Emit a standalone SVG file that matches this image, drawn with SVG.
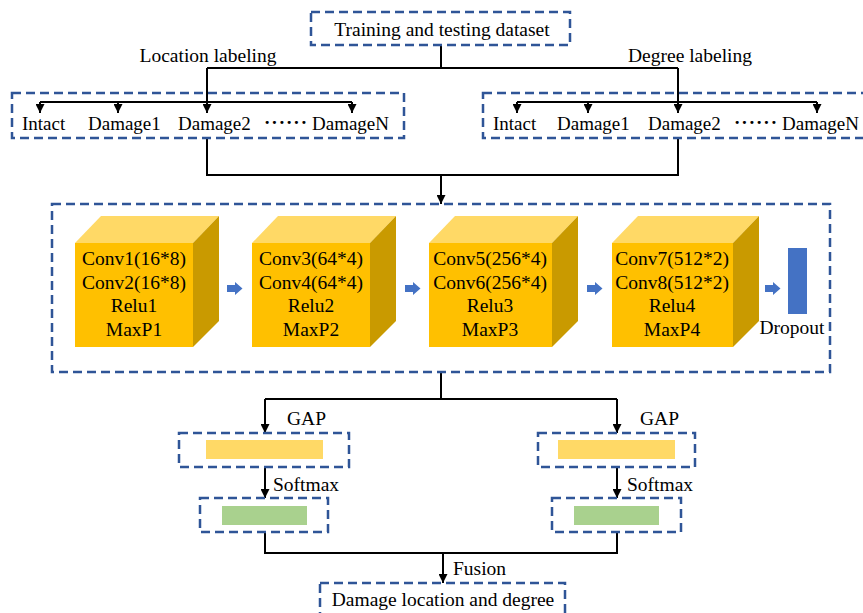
<svg xmlns="http://www.w3.org/2000/svg" width="863" height="613" viewBox="0 0 863 613">
<defs>
<style>
text{font-family:"Liberation Serif","Times New Roman",serif;font-size:19.5px;fill:#000}
.c{text-anchor:middle}
.lb{font-size:19px}
.box{fill:none;stroke:#2F5597;stroke-width:2.5;stroke-dasharray:9 5}
.ln{fill:none;stroke:#000;stroke-width:2}
.front{fill:#FFC000}
.top{fill:#FFD966}
.side{fill:#C99A00}
.blk{fill:#4472C4}
.ct{font-size:19.5px;text-anchor:middle}
</style>
<marker id="ah" viewBox="0 0 10 10" refX="10" refY="5" markerWidth="4.5" markerHeight="4.5" orient="auto" markerUnits="strokeWidth">
<path d="M0,0 L10,5 L0,10 z" fill="#000"/>
</marker>
</defs>
<rect width="863" height="613" fill="#fff"/>

<g id="connectors">
<path class="ln" d="M441,45 V68 M207,68 H678"/>
<path class="ln" d="M207,68 V113" marker-end="url(#ah)"/>
<path class="ln" d="M678,68 V113" marker-end="url(#ah)"/>
<path class="ln" d="M40,102 H352"/>
<path class="ln" d="M40,102 V113" marker-end="url(#ah)"/>
<path class="ln" d="M118,102 V113" marker-end="url(#ah)"/>
<path class="ln" d="M352,102 V113" marker-end="url(#ah)"/>
<path class="ln" d="M517,102 H817"/>
<path class="ln" d="M517,102 V113" marker-end="url(#ah)"/>
<path class="ln" d="M588,102 V113" marker-end="url(#ah)"/>
<path class="ln" d="M817,102 V113" marker-end="url(#ah)"/>
<path class="ln" d="M207,138 V175 H678 V138"/>
<path class="ln" d="M441,175 V204" marker-end="url(#ah)"/>
<path class="ln" d="M441,372 V399 M265,399 H617"/>
<path class="ln" d="M265,399 V433" marker-end="url(#ah)"/>
<path class="ln" d="M617,399 V433" marker-end="url(#ah)"/>
<path class="ln" d="M265,467 V498" marker-end="url(#ah)"/>
<path class="ln" d="M617,467 V498" marker-end="url(#ah)"/>
<path class="ln" d="M265,532 V553 H617 V532"/>
<path class="ln" d="M443,553 V583" marker-end="url(#ah)"/>
</g>

<g id="title">
<rect class="box" x="311" y="12" width="259" height="33"/>
<text class="c" x="442" y="36">Training and testing dataset</text>
</g>
<text class="c" x="208" y="62">Location labeling</text>
<text class="c" x="690" y="62">Degree labeling</text>

<g id="location-labels">
<rect class="box" x="12" y="93" width="392" height="45"/>
<text class="lb" x="22" y="130">Intact</text>
<text class="lb" x="88" y="130">Damage1</text>
<text class="lb" x="178" y="130">Damage2</text>
<text class="lb" x="264" y="129" style="font-weight:bold;letter-spacing:1px">······</text>
<text class="lb" x="312" y="130">DamageN</text>
</g>

<g id="degree-labels">
<rect class="box" x="483" y="93" width="385" height="45"/>
<text class="lb" x="493" y="130">Intact</text>
<text class="lb" x="557" y="130">Damage1</text>
<text class="lb" x="648" y="130">Damage2</text>
<text class="lb" x="734" y="129" style="font-weight:bold;letter-spacing:1px">······</text>
<text class="lb" x="782" y="130">DamageN</text>
</g>

<g id="cnn">
<rect class="box" x="52" y="204" width="778" height="168"/>
</g>

<g id="block1">
<polygon class="top" points="75,243 101,216 219,216 193,243"/>
<polygon class="side" points="193,243 219,216 219,321 193,347"/>
<rect class="front" x="75" y="243" width="118" height="104"/>
<text class="ct" x="134" y="265">Conv1(16*8)</text>
<text class="ct" x="134" y="289">Conv2(16*8)</text>
<text class="ct" x="134" y="312">Relu1</text>
<text class="ct" x="134" y="336">MaxP1</text>
</g>
<g id="block2">
<polygon class="top" points="252,243 278,216 396,216 370,243"/>
<polygon class="side" points="370,243 396,216 396,321 370,347"/>
<rect class="front" x="252" y="243" width="118" height="104"/>
<text class="ct" x="311" y="265">Conv3(64*4)</text>
<text class="ct" x="311" y="289">Conv4(64*4)</text>
<text class="ct" x="311" y="312">Relu2</text>
<text class="ct" x="311" y="336">MaxP2</text>
</g>
<g id="block3">
<polygon class="top" points="429,243 455,216 578,216 552,243"/>
<polygon class="side" points="552,243 578,216 578,321 552,347"/>
<rect class="front" x="429" y="243" width="123" height="104"/>
<text class="ct" x="490" y="265">Conv5(256*4)</text>
<text class="ct" x="490" y="289">Conv6(256*4)</text>
<text class="ct" x="490" y="312">Relu3</text>
<text class="ct" x="490" y="336">MaxP3</text>
</g>
<g id="block4">
<polygon class="top" points="612,243 638,216 759,216 733,243"/>
<polygon class="side" points="733,243 759,216 759,321 733,347"/>
<rect class="front" x="612" y="243" width="121" height="104"/>
<text class="ct" x="672" y="265">Conv7(512*2)</text>
<text class="ct" x="672" y="289">Conv8(512*2)</text>
<text class="ct" x="672" y="312">Relu4</text>
<text class="ct" x="672" y="336">MaxP4</text>
</g>
<g id="flow-arrows">
<path class="blk" d="M227,285 h8 v-3 l7.5,6.5 l-7.5,6.5 v-3 h-8 z"/>
<path class="blk" d="M405,285 h8 v-3 l7.5,6.5 l-7.5,6.5 v-3 h-8 z"/>
<path class="blk" d="M587,285 h8 v-3 l7.5,6.5 l-7.5,6.5 v-3 h-8 z"/>
<path class="blk" d="M765,285 h8 v-3 l7.5,6.5 l-7.5,6.5 v-3 h-8 z"/>
</g>
<g id="dropout">
<rect class="blk" x="788" y="248" width="19" height="66"/>
<text class="c" x="792" y="334">Dropout</text>
</g>

<g id="gap-left">
<rect class="box" x="179" y="433" width="170" height="34"/>
<rect x="206" y="440" width="117" height="19" fill="#FFD966"/>
</g>
<text x="287" y="425">GAP</text>
<g id="gap-right">
<rect class="box" x="538" y="433" width="157" height="34"/>
<rect x="558" y="440" width="117" height="19" fill="#FFD966"/>
</g>
<text x="640" y="425">GAP</text>

<g id="softmax-left">
<rect class="box" x="200" y="498" width="128" height="34"/>
<rect x="222" y="506" width="85" height="19" fill="#A9D18E"/>
</g>
<text x="273" y="491">Softmax</text>
<g id="softmax-right">
<rect class="box" x="552" y="498" width="129" height="34"/>
<rect x="574" y="506" width="85" height="19" fill="#A9D18E"/>
</g>
<text x="627" y="491">Softmax</text>

<text x="453" y="575">Fusion</text>
<g id="output">
<rect class="box" x="320" y="583" width="245" height="40"/>
<text class="c" x="443" y="606">Damage location and degree</text>
</g>
</svg>
